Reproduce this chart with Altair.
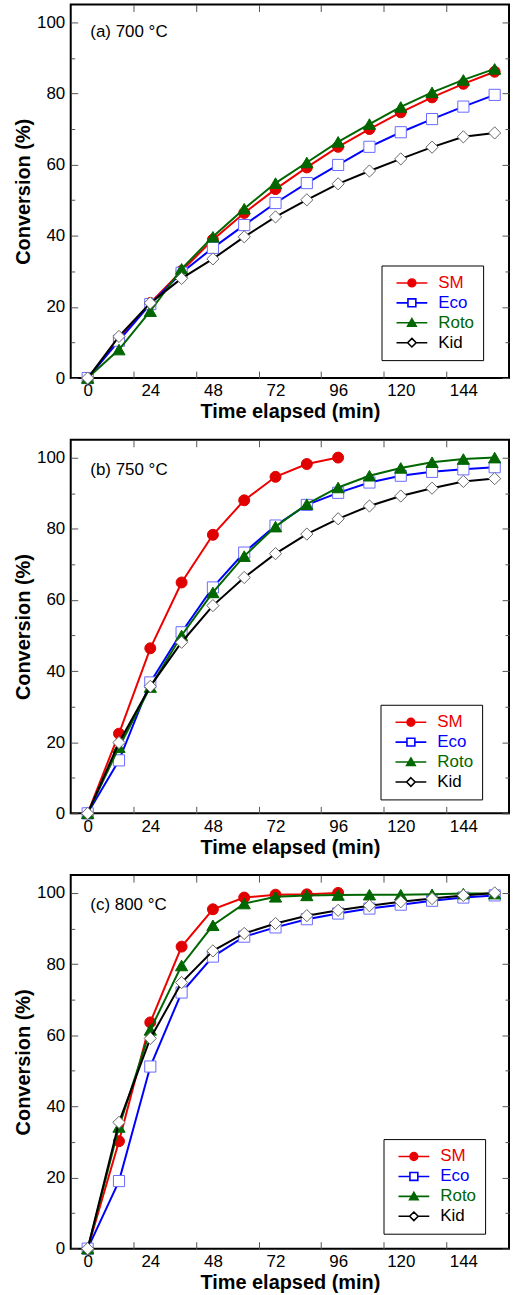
import altair as alt
import pandas as pd

FONT = "Liberation Sans"

# ---------------- data ----------------
times = [0, 12, 24, 36, 48, 60, 72, 84, 96, 108, 120, 132, 144, 156]
series_names = ["SM", "Eco", "Roto", "Kid"]

a_sm = [0, 10.8, 21.1, 30.1, 38.9, 46.4, 53.1, 59.2, 65.0, 70.0, 74.7, 78.9, 82.7, 86.1]
a_eco = [0, 10.5, 20.8, 29.6, 36.6, 43.0, 49.2, 54.8, 59.9, 65.0, 69.1, 72.8, 76.3, 79.6]
a_roto = [0, 8.0, 18.8, 30.7, 39.7, 47.6, 54.8, 60.6, 66.4, 71.4, 76.2, 80.3, 83.8, 86.9]
a_kid = [0, 11.7, 21.1, 28.0, 33.5, 39.7, 45.3, 50.1, 54.6, 58.2, 61.6, 64.9, 67.8, 68.9]

b_sm = [0, 22.4, 46.4, 64.9, 78.3, 88.0, 94.6, 98.2, 100.0]
b_eco = [0, 14.9, 36.8, 50.9, 63.5, 73.3, 80.9, 86.7, 90.1, 93.0, 94.9, 96.0, 96.7, 97.3]
b_roto = [0, 18.6, 35.5, 50.0, 62.1, 72.3, 80.6, 86.9, 91.6, 94.9, 97.1, 98.7, 99.6, 100.0]
b_kid = [0, 19.9, 35.7, 48.1, 58.4, 66.3, 73.0, 78.5, 82.8, 86.4, 89.2, 91.4, 93.3, 94.1]

c_sm = [0, 30.2, 63.6, 84.9, 95.4, 98.7, 99.5, 99.6, 100.0]
c_eco = [0, 19.0, 51.2, 72.0, 82.1, 87.7, 90.3, 92.6, 94.2, 95.6, 96.7, 97.8, 98.7, 99.3]
c_roto = [0, 34.2, 61.5, 79.6, 90.9, 97.0, 98.9, 99.3, 99.4, 99.5, 99.5, 99.6, 99.8, 99.8]
c_kid = [0, 35.5, 59.1, 74.8, 83.7, 88.6, 91.4, 93.6, 95.1, 96.4, 97.5, 98.4, 99.3, 100.0]

panel_labels = ["(a) 700 \u00b0C", "(b) 750 \u00b0C", "(c) 800 \u00b0C"]
# annotation anchor in data units (time, conversion)
label_anchor_t = 1.0
label_anchor_conv = [96.0, 95.2, 95.2]

x_label_values = [0, 24, 48, 72, 96, 120, 144]
x_tick_values = [17.5, 41.5, 65.5, 89.5, 113.5, 137.5]
y_major = [0, 20, 40, 60, 80, 100]
y_minor = [10, 30, 50, 70, 90]
x_domain = [-6.5, 161.5]
y_domain = [0, 105]

# ---------------- styles ----------------
line_colors = {"SM": "#ee0000", "Eco": "#0000ff", "Roto": "#006600", "Kid": "#000000"}
marker_shapes = {"SM": "circle", "Eco": "square", "Roto": "triangle-up", "Kid": "diamond"}
marker_fill = {"SM": "#e00000", "Eco": "#ffffff", "Roto": "#006600", "Kid": "#ffffff"}
marker_stroke = {"SM": "#e00000", "Eco": "#6a6aff", "Roto": "#006600", "Kid": "#666666"}
marker_size = {"SM": 121, "Eco": 125, "Roto": 150, "Kid": 150}

# legend glyphs: a line segment with the marker in its middle
legend_paths = [
    "M-5.15,0H5.15M-1.3,0A1.3,1.3 0 1,0 1.3,0A1.3,1.3 0 1,0 -1.3,0Z",
    "M-5.15,0H-1.32M1.32,0H5.15M-1.32,-1.32H1.32V1.32H-1.32Z",
    "M-5.15,0H5.15M0,-1.36L1.43,1.15H-1.43Z",
    "M-5.15,0H-1.43M1.43,0H5.15M0,-1.43L1.43,0L0,1.43L-1.43,0Z",
]
legend_fills = ["#e00000", "#ffffff", "#006600", "#ffffff"]
legend_strokes = ["#ee0000", "#0000ff", "#006600", "#000000"]

W, H = 440, 375


def make_df(sm, eco, roto, kid):
    rows = []
    for name, vals in zip(series_names, [sm, eco, roto, kid]):
        for t, v in zip(times, vals):
            rows.append({"series": name, "t": t, "conv": v})
    return pd.DataFrame(rows)


def xenc(axis=None):
    return alt.X("t:Q", scale=alt.Scale(domain=x_domain, nice=False, zero=False), axis=axis)


def yenc(axis=None):
    return alt.Y("conv:Q", scale=alt.Scale(domain=y_domain, nice=False, zero=False), axis=axis)


def tick_axis(orient, values, size):
    return alt.Axis(orient=orient, values=values, labels=False, domain=False, grid=False,
                    ticks=True, tickSize=alt.ExprRef(expr=str(-size)), tickColor="#555555",
                    tickWidth=1, title=None)


label_color_expr = ("datum.value == 'SM' ? '#ee0000' : datum.value == 'Eco' ? '#0000ff' : "
                    "datum.value == 'Roto' ? '#006600' : '#000000'")


def panel(df, label, conv_anchor, lx, ly):
    layers = []
    for name in series_names:
        d = df[df["series"] == name]
        layers.append(
            alt.Chart(d).mark_line(color=line_colors[name], strokeWidth=2)
            .encode(x=xenc(None), y=yenc(None))
        )
        layers.append(
            alt.Chart(d).mark_point(shape=marker_shapes[name], filled=True,
                                    fill=marker_fill[name], stroke=marker_stroke[name],
                                    strokeWidth=1, size=marker_size[name], opacity=1)
            .encode(x=xenc(None), y=yenc(None))
        )

    # axes (invisible carrier marks)
    ghost = alt.Chart(df).mark_point(opacity=0)
    layers.append(ghost.encode(y=yenc(None), x=xenc(alt.Axis(
        orient="bottom", values=x_label_values, ticks=False, domain=False, grid=False,
        labelFontSize=17, labelFont=FONT, labelColor="black", labelPadding=5,
        labelFlush=False, labelOverlap=False,
        title="Time elapsed (min)", titleFontSize=20, titleFont=FONT,
        titleFontWeight="bold", titleColor="black", titlePadding=3))))
    layers.append(ghost.encode(y=yenc(None), x=xenc(tick_axis("bottom", x_tick_values, 7))))
    layers.append(ghost.encode(y=yenc(None), x=xenc(tick_axis("top", x_tick_values, 7))))
    layers.append(ghost.encode(x=xenc(None), y=yenc(alt.Axis(
        orient="left", values=y_major, ticks=False, domain=False, grid=False,
        labelFontSize=17, labelFont=FONT, labelColor="black", labelPadding=6,
        labelFlush=False, labelOverlap=False,
        title="Conversion (%)", titleFontSize=20, titleFont=FONT,
        titleFontWeight="bold", titleColor="black", titlePadding=3))))
    layers.append(ghost.encode(x=xenc(None), y=yenc(tick_axis("left", y_major, 7))))
    layers.append(ghost.encode(x=xenc(None), y=yenc(tick_axis("left", y_minor, 4))))
    layers.append(ghost.encode(x=xenc(None), y=yenc(tick_axis("right", y_major, 7))))
    layers.append(ghost.encode(x=xenc(None), y=yenc(tick_axis("right", y_minor, 4))))

    # legend
    leg = alt.Legend(orient="none", legendX=lx, legendY=ly, title=None,
                     strokeColor="black", fillColor="white", padding=9,
                     labelFont=FONT, labelFontSize=17,
                     labelColor=alt.ExprRef(expr=label_color_expr),
                     symbolSize=36, symbolStrokeWidth=1.6, symbolOffset=13,
                     labelOffset=18, rowPadding=2)
    layers.append(
        alt.Chart(df).transform_filter("false")
        .mark_point(filled=True, size=36, opacity=1, strokeWidth=1.6)
        .encode(
            x=xenc(None), y=yenc(None),
            shape=alt.Shape("series:N", scale=alt.Scale(domain=series_names, range=legend_paths), legend=leg),
            fill=alt.Fill("series:N", scale=alt.Scale(domain=series_names, range=legend_fills), legend=leg),
            stroke=alt.Stroke("series:N", scale=alt.Scale(domain=series_names, range=legend_strokes), legend=leg),
        )
    )

    # panel annotation
    ann = pd.DataFrame({"label": [label], "t": [label_anchor_t], "conv": [conv_anchor]})
    layers.append(
        alt.Chart(ann)
        .mark_text(align="left", baseline="alphabetic", fontSize=17, font=FONT, color="black")
        .encode(x=xenc(None), y=yenc(None), text="label:N")
    )

    return alt.layer(*layers).properties(width=W, height=H).resolve_axis(x="independent", y="independent")


pa = panel(make_df(a_sm, a_eco, a_roto, a_kid), panel_labels[0], label_anchor_conv[0], 312, 262)
pb = panel(make_df(b_sm, b_eco, b_roto, b_kid), panel_labels[1], label_anchor_conv[1], 311, 266)
pc = panel(make_df(c_sm, c_eco, c_roto, c_kid), panel_labels[2], label_anchor_conv[2], 314, 265)

chart = (
    alt.vconcat(pa, pb, pc, spacing=15)
    .resolve_scale(x="independent", y="independent", shape="independent",
                   fill="independent", stroke="independent")
    .resolve_legend(shape="independent", fill="independent", stroke="independent")
    .properties(padding={"left": 12, "top": 0, "right": 2, "bottom": 0}, background="white")
    .configure_view(stroke="black", strokeWidth=2)
)

chart.save("out.html", embed_options={"renderer": "svg", "actions": False})
